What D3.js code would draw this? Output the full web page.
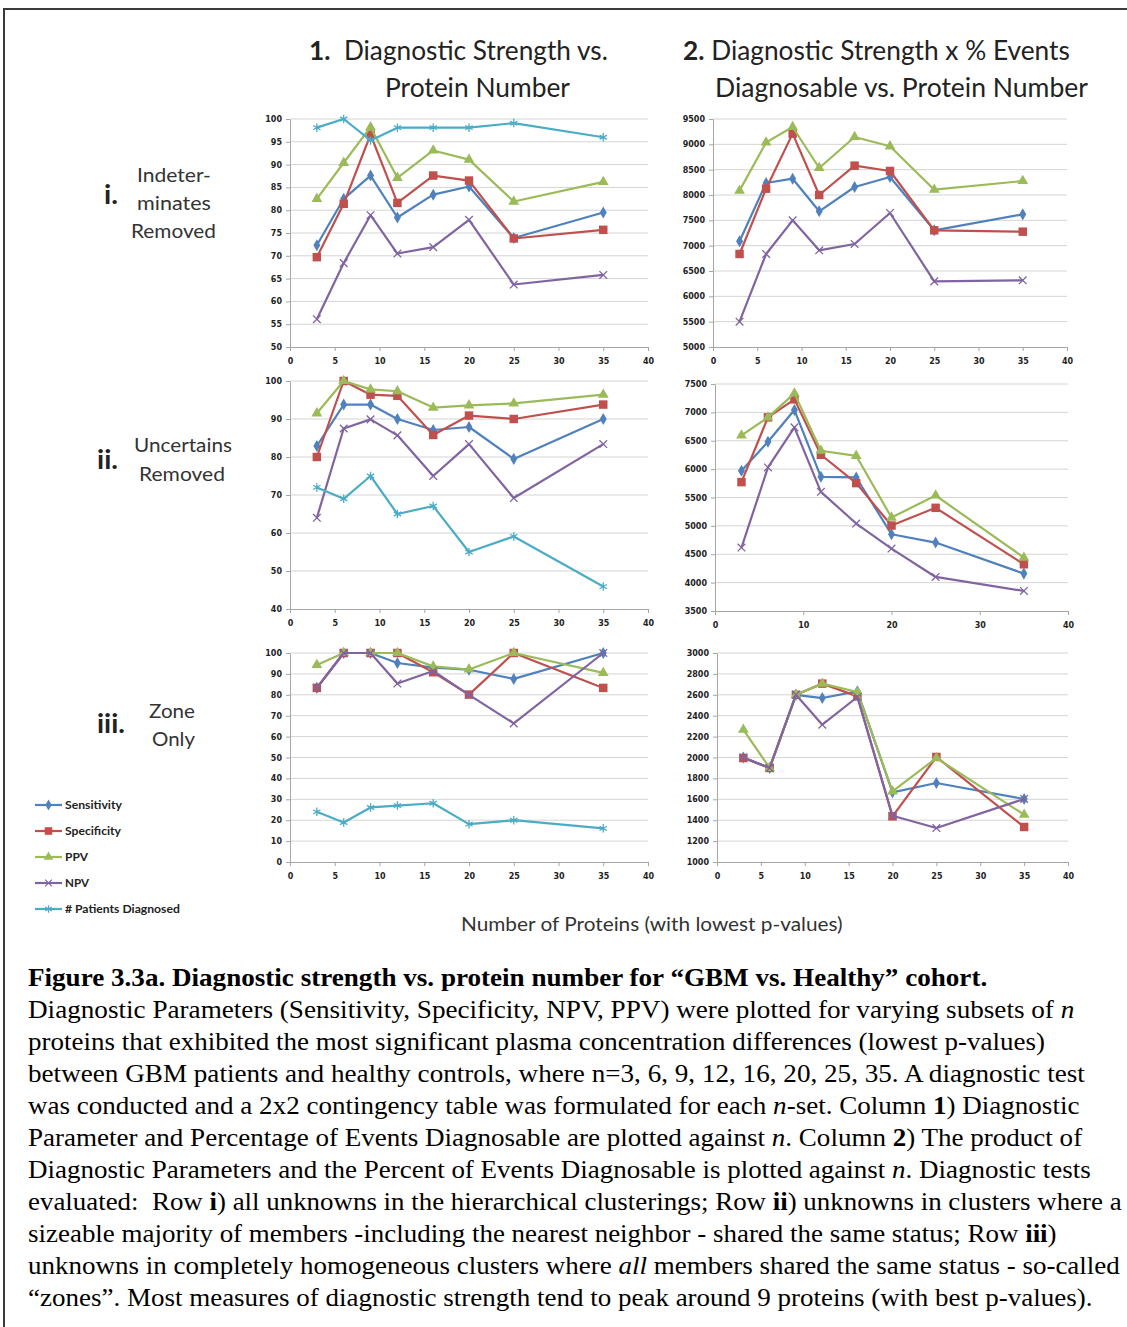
<!DOCTYPE html>
<html><head><meta charset="utf-8">
<script src="https://cdn.jsdelivr.net/npm/d3@7"></script>
<style>body{margin:0;background:#fff} text{white-space:pre}</style>
</head><body><svg id="c" width="1127" height="1327"></svg>
<script>
// ---------------- DATA ----------------
const proteins = [3, 6, 9, 12, 16, 20, 25, 35];
const seriesNames = ["Sensitivity", "Specificity", "PPV", "NPV", "# Patients Diagnosed"];

// Row i (Indeterminates Removed)
const sens_i1 = [72.3, 82.5, 87.6, 78.4, 83.4, 85.2, 73.9, 79.5];
const spec_i1 = [69.7, 81.4, 96.6, 81.6, 87.6, 86.5, 73.8, 75.7];
const ppv_i1  = [82.5, 90.4, 98.2, 87.1, 93.1, 91.1, 81.9, 86.2];
const npv_i1  = [56.1, 68.4, 78.9, 70.5, 71.9, 77.9, 63.7, 65.8];
const pat_i1  = [98.1, 100, 95.3, 98.1, 98.1, 98.1, 99.1, 96.0];
const sens_i2 = [7086, 8237, 8322, 7678, 8158, 8355, 7303, 7618];
const spec_i2 = [6836, 8125, 9211, 8000, 8579, 8474, 7303, 7276];
const ppv_i2  = [8086, 9039, 9342, 8533, 9145, 8961, 8105, 8276];
const npv_i2  = [5500, 6836, 7500, 6908, 7033, 7645, 6296, 6316];

// Row ii (Uncertains Removed)
const sens_ii1 = [82.9, 93.8, 93.8, 90.0, 87.1, 87.9, 79.5, 90.0];
const spec_ii1 = [80.0, 100, 96.4, 96.1, 85.8, 90.9, 90.0, 93.8];
const ppv_ii1  = [91.5, 100, 97.8, 97.3, 93.0, 93.6, 94.1, 96.4];
const npv_ii1  = [64.0, 87.5, 89.9, 85.7, 75.0, 83.4, 69.2, 83.4];
const pat_ii1  = [72.0, 69.0, 75.0, 65.0, 67.1, 55.0, 59.1, 45.9];
const sens_ii2 = [5971, 6482, 7041, 5865, 5853, 4853, 4706, 4159];
const spec_ii2 = [5771, 6912, 7229, 6253, 5753, 5006, 5318, 4324];
const ppv_ii2  = [6594, 6912, 7335, 6324, 6235, 5147, 5535, 4441];
const npv_ii2  = [4618, 6029, 6735, 5600, 5041, 4600, 4100, 3853];

// Row iii (Zone Only)
const sens_iii1 = [83.3, 100, 100, 95.2, 93.0, 92.0, 87.6, 100];
const spec_iii1 = [83.3, 100, 100, 100, 90.8, 80.1, 100, 83.3];
const ppv_iii1  = [94.3, 100, 100, 100, 93.6, 92.1, 100, 90.5];
const npv_iii1  = [83.3, 100, 100, 85.4, 91.4, 80.0, 66.3, 100];
const pat_iii1  = [24.0, 18.9, 26.1, 27.0, 28.1, 18.1, 20.0, 16.1];
const sens_iii2 = [2000, 1900, 2600, 2569, 2633, 1667, 1756, 1603];
const spec_iii2 = [1995, 1900, 2600, 2707, 2585, 1437, 2005, 1335];
const ppv_iii2  = [2266, 1900, 2600, 2707, 2627, 1676, 1995, 1453];
const npv_iii2  = [2000, 1900, 2600, 2314, 2579, 1443, 1325, 1603];

// ---------------- STYLE / LAYOUT ----------------
const seriesStyle = [
  {color:'#4F81BD', sym:d3.symbolDiamond, size:42, fill:true},
  {color:'#C0504D', sym:d3.symbolSquare, size:72, fill:true},
  {color:'#9BBB59', sym:d3.symbolTriangle, size:50, fill:true},
  {color:'#8064A2', sym:d3.symbolTimes, size:40, fill:false},
  {color:'#4BACC6', sym:d3.symbolAsterisk, size:50, fill:false},
];

const panels = [
  {box:[290,119,648,347], y:[50,100], yStep:5, xStep:5, data:[sens_i1,spec_i1,ppv_i1,npv_i1,pat_i1]},
  {box:[713,119,1067,347], y:[5000,9500], yStep:500, xStep:5, data:[sens_i2,spec_i2,ppv_i2,npv_i2]},
  {box:[290,381,648,609], y:[40,100], yStep:10, xStep:5, data:[sens_ii1,spec_ii1,ppv_ii1,npv_ii1,pat_ii1]},
  {box:[715,384,1068,611], y:[3500,7500], yStep:500, xStep:10, data:[sens_ii2,spec_ii2,ppv_ii2,npv_ii2]},
  {box:[290,653,648,862], y:[0,100], yStep:10, xStep:5, data:[sens_iii1,spec_iii1,ppv_iii1,npv_iii1,pat_iii1]},
  {box:[717,653,1068,862], y:[1000,3000], yStep:200, xStep:5, data:[sens_iii2,spec_iii2,ppv_iii2,npv_iii2]},
];

const svg = d3.select('#c');
svg.append('rect').attr('x',0).attr('y',0).attr('width',1127).attr('height',1327).attr('fill','#fff');
// outer frame
svg.append('rect').attr('x',4).attr('y',9).attr('width',1150).attr('height',1340)
  .attr('fill','none').attr('stroke','#3a3a3a').attr('stroke-width',2);

function fitText(parts, x0, x1, y, font, size, color, weight) {
  const t = svg.append('text').attr('x',0).attr('y',0)
    .attr('font-family', font).attr('font-size', size).attr('fill', color || '#000')
    .attr('font-weight', weight || 'normal');
  parts.forEach(p => {
    if (typeof p === 'string') t.append('tspan').text(p);
    else t.append('tspan').text(p.t).attr('font-weight', p.b ? 'bold' : null).attr('font-style', p.i ? 'italic' : null);
  });
  const w = t.node().getComputedTextLength();
  t.attr('transform', `translate(${x0},${y}) scale(${(x1 - x0) / w},1)`);
  return t;
}

// ---------------- PANELS ----------------
const lineGen = (x, y) => d3.line().x((d,i) => x(proteins[i])).y(d => y(d));

panels.forEach(p => {
  const [L, T, R, B] = p.box;
  const x = d3.scaleLinear().domain([0, 40]).range([L, R]);
  const y = d3.scaleLinear().domain(p.y).range([B, T]);
  const yTicks = d3.range(p.y[0], p.y[1] + 0.001, p.yStep);
  const xTicks = d3.range(0, 40.001, p.xStep);
  const g = svg.append('g');
  g.selectAll('.grid').data(yTicks.slice(1)).enter().append('line')
    .attr('x1', L).attr('x2', R).attr('y1', d => y(d)).attr('y2', d => y(d))
    .attr('stroke', '#d4d4d4').attr('stroke-width', 1);
  const ya = g.append('g').attr('transform', `translate(${L},0)`)
    .call(d3.axisLeft(y).tickValues(yTicks).tickFormat(d3.format('d')).tickSize(4).tickSizeOuter(0).tickPadding(4));
  ya.select('.domain').attr('stroke', '#a6a6a6');
  ya.selectAll('.tick line').attr('stroke', '#a6a6a6');
  ya.selectAll('.tick text').attr('font-family', 'DejaVu Sans').attr('font-weight', 'bold')
    .attr('font-size', 8).attr('fill', '#222');
  const xa = g.append('g').attr('transform', `translate(0,${B})`)
    .call(d3.axisBottom(x).tickValues(xTicks).tickFormat(d3.format('d')).tickSize(4).tickSizeOuter(0).tickPadding(7));
  xa.select('.domain').attr('stroke', '#a6a6a6');
  xa.selectAll('.tick line').attr('stroke', '#a6a6a6');
  xa.selectAll('.tick text').attr('font-family', 'DejaVu Sans').attr('font-weight', 'bold')
    .attr('font-size', 8).attr('fill', '#222');
  p.data.forEach((vals, si) => {
    const st = seriesStyle[si];
    g.append('path').datum(vals).attr('d', lineGen(x, y)).attr('fill', 'none')
      .attr('stroke', st.color).attr('stroke-width', 2.2).attr('stroke-linejoin', 'round');
    g.selectAll(null).data(vals).enter().append('path')
      .attr('transform', (d, i) => `translate(${x(proteins[i])},${y(d)})`)
      .attr('d', d3.symbol().type(st.sym).size(st.size))
      .attr('fill', st.fill ? st.color : 'none')
      .attr('stroke', st.fill ? 'none' : st.color)
      .attr('stroke-width', st.fill ? 0 : 1.3);
  });
});

// ---------------- LEGEND ----------------
const legendY = [805, 831, 857, 883, 909];
const legendRight = [122, 121, 88, 89, 180];
seriesNames.forEach((n, i) => {
  const st = seriesStyle[i];
  svg.append('line').attr('x1', 35).attr('x2', 62).attr('y1', legendY[i]).attr('y2', legendY[i])
    .attr('stroke', st.color).attr('stroke-width', 2.2);
  svg.append('path').attr('transform', `translate(48.5,${legendY[i]})`)
    .attr('d', d3.symbol().type(st.sym).size(st.size * 0.8))
    .attr('fill', st.fill ? st.color : 'none').attr('stroke', st.fill ? 'none' : st.color).attr('stroke-width', 1.2);
  fitText([n], 65, legendRight[i], legendY[i] + 4, 'Lato', 11, '#222', 'bold');
});

// ---------------- HEADERS ----------------
const hFont = 'Lato';
fitText([{t:'1.', b:true}, '  Diagnostic Strength vs.'], 309, 608, 60, hFont, 27, '#222');
fitText(['Protein Number'], 385, 570, 97, hFont, 27, '#222');
fitText([{t:'2.', b:true}, ' Diagnostic Strength x % Events'], 683, 1070, 60, hFont, 27, '#222');
fitText(['Diagnosable vs. Protein Number'], 715, 1088, 97, hFont, 27, '#222');

fitText([{t:'i.', b:true}], 104, 118, 204, hFont, 26, '#222');
fitText(['Indeter-'], 137, 211, 182, hFont, 20, '#333');
fitText(['minates'], 137, 211, 210, hFont, 20, '#333');
fitText(['Removed'], 131, 216, 238, hFont, 20, '#333');

fitText([{t:'ii.', b:true}], 97, 118, 469, hFont, 26, '#222');
fitText(['Uncertains'], 134, 232, 452, hFont, 20, '#333');
fitText(['Removed'], 139, 225, 481, hFont, 20, '#333');

fitText([{t:'iii.', b:true}], 97, 125, 733, hFont, 26, '#222');
fitText(['Zone'], 149, 195, 718, hFont, 20, '#333');
fitText(['Only'], 152, 195, 746, hFont, 20, '#333');

fitText(['Number of Proteins (with lowest p-values)'], 461, 843, 931, hFont, 19, '#333');

// ---------------- CAPTION ----------------
const cFont = 'Liberation Serif';
const cap = [
  [[{t:'Figure 3.3a. Diagnostic strength vs. protein number for \u201cGBM vs. Healthy\u201d cohort.', b:true}], 988],
  [['Diagnostic Parameters (Sensitivity, Specificity, NPV, PPV) were plotted for varying subsets of ', {t:'n', i:true}], 1075],
  [['proteins that exhibited the most significant plasma concentration differences (lowest p-values)'], 1045],
  [['between GBM patients and healthy controls, where n=3, 6, 9, 12, 16, 20, 25, 35. A diagnostic test'], 1085],
  [['was conducted and a 2x2 contingency table was formulated for each ', {t:'n', i:true}, '-set. Column ', {t:'1', b:true}, ') Diagnostic'], 1080],
  [['Parameter and Percentage of Events Diagnosable are plotted against ', {t:'n', i:true}, '. Column ', {t:'2', b:true}, ') The product of'], 1083],
  [['Diagnostic Parameters and the Percent of Events Diagnosable is plotted against ', {t:'n', i:true}, '. Diagnostic tests'], 1091],
  [['evaluated:  Row ', {t:'i', b:true}, ') all unknowns in the hierarchical clusterings; Row ', {t:'ii', b:true}, ') unknowns in clusters where a'], 1122],
  [['sizeable majority of members -including the nearest neighbor - shared the same status; Row ', {t:'iii', b:true}, ')'], 1057],
  [['unknowns in completely homogeneous clusters where ', {t:'all', i:true}, ' members shared the same status - so-called'], 1120],
  [['\u201czones\u201d. Most measures of diagnostic strength tend to peak around 9 proteins (with best p-values).'], 1093],
];
cap.forEach((c, i) => {
  fitText(c[0], 28, c[1], 986 + 32 * i, cFont, 25.5, '#000');
});
</script></body></html>
